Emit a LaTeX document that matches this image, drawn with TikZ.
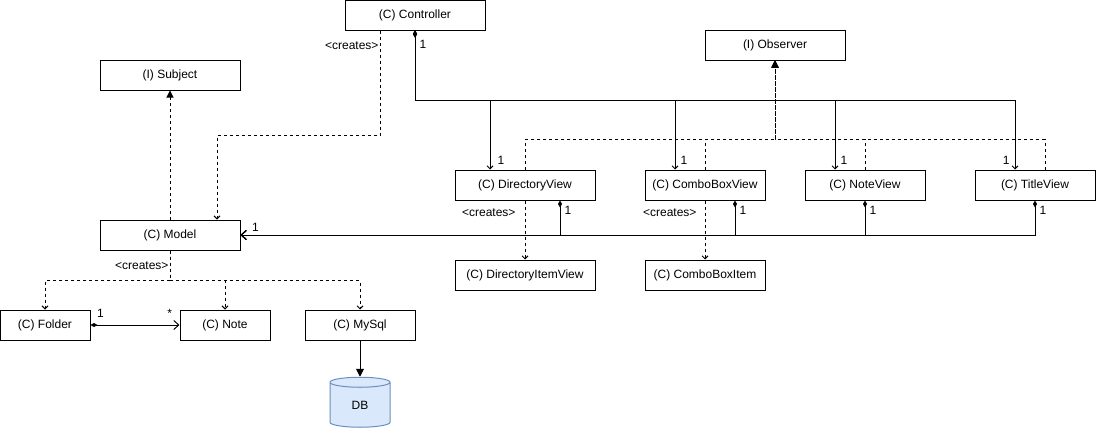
\documentclass[tikz,border=0pt]{standalone}
\usepackage{fontspec}
\setmainfont{Liberation Sans}
\usepackage{tikz}
\usetikzlibrary{positioning}
\usetikzlibrary{arrows.meta,shapes.geometric}
\definecolor{dbfill}{HTML}{DAE8FC}
\definecolor{dbline}{HTML}{6C8EBF}

\begin{document}
\begin{tikzpicture}[x=1pt,y=-1pt,line width=1pt,
  cls/.style={draw,rectangle,minimum height=30pt,inner sep=0pt,font=\fontsize{12}{14}\selectfont},
  lbl/.style={inner sep=1pt,font=\fontsize{12}{14}\selectfont},
  dep/.style={dash pattern=on 3pt off 3pt,-{Straight Barb[length=3pt,width=6pt]}},
  impl/.style={dash pattern=on 3pt off 3pt,-{Triangle[length=7pt,width=7pt]}},
  ctl/.style={{Diamond[length=7pt,width=4pt]}-{Straight Barb[length=3pt,width=6pt]}},
  agg/.style={{Diamond[length=7pt,width=4pt]}-{Straight Barb[length=5pt,width=9pt]}}]
\useasboundingbox (0,0) rectangle (1096,431);

% classes
\node[cls,minimum width=140pt] (ctrl) at (415,15) {(C) Controller};
\node[cls,minimum width=140pt] (subj) at (170,75) {(I) Subject};
\node[cls,minimum width=140pt] (obs) at (775,45) {(I) Observer};
\node[cls,minimum width=140pt] (model) at (170,235) {(C) Model};
\node[cls,minimum width=90pt] (folder) at (45,325) {(C) Folder};
\node[cls,minimum width=90pt] (note) at (225,325) {(C) Note};
\node[cls,minimum width=110pt] (mysql) at (360,325) {(C) MySql};
\node[cylinder,shape border rotate=90,aspect=0.6,draw=dbline,fill=dbfill,
  minimum width=60pt,minimum height=50pt,inner sep=0pt,
  font=\fontsize{12}{14}\selectfont] (db) at (360,405) {\raisebox{-6pt}{DB}};
\node[cls,minimum width=140pt] (dv) at (525,185) {(C) DirectoryView};
\node[cls,minimum width=120pt] (cbv) at (705,185) {(C) ComboBoxView};
\node[cls,minimum width=120pt] (nv) at (865,185) {(C) NoteView};
\node[cls,minimum width=120pt] (tv) at (1035,185) {(C) TitleView};
\node[cls,minimum width=140pt] (div) at (525,275) {(C) DirectoryItemView};
\node[cls,minimum width=120pt] (cbi) at (705,275) {(C) ComboBoxItem};

% controller
\draw[ctl] (ctrl.south) -- ++(0,70) node[pos=0.2,right,xshift=3pt,lbl]{1} -| node[pos=1,above right,xshift=6pt,yshift=4pt,lbl]{1} ([xshift=-35pt]dv.north);
\draw[ctl] (ctrl.south) -- ++(0,70) -| node[pos=1,above right,xshift=4pt,yshift=4pt,lbl]{1} ([xshift=-30pt]cbv.north);
\draw[ctl] (ctrl.south) -- ++(0,70) -| node[pos=1,above right,xshift=4pt,yshift=4pt,lbl]{1} ([xshift=-30pt]nv.north);
\draw[ctl] (ctrl.south) -- ++(0,70) -| node[pos=1,above left,xshift=-4pt,yshift=4pt,lbl]{1} ([xshift=-20pt]tv.north);
\draw[dep] ([xshift=-35pt]ctrl.south) -- ++(0,105) node[pos=0.14,left,lbl]{<creates>} -| ([xshift=47pt]model.north);

% model
\draw[impl] (model.north) -- (subj.south);
\draw[dep] (model.south) -- ++(0,30) node[pos=0.5,left,lbl]{<creates>} -| (folder.north);
\draw[dep] (model.south) -- ++(0,30) -| (note.north);
\draw[dep] (model.south) -- ++(0,30) -| (mysql.north);
\draw[{Diamond[length=7pt,width=4pt]}-{Straight Barb[length=5pt,width=9pt]}] (folder.east) -- (note.west)
  node[pos=0,anchor=south west,xshift=5pt,yshift=6pt,lbl]{1}
  node[pos=1,anchor=south east,xshift=-6pt,yshift=6pt,lbl]{*};
\draw[-{Triangle[length=8pt,width=8pt]}] (mysql.south) -- (db.top);

% views
\draw[agg] ([xshift=35pt]dv.south) |- node[pos=0.15,right,xshift=3pt,lbl]{1} (model.east);
\draw[agg] ([xshift=30pt]cbv.south) |- node[pos=0.15,right,xshift=3pt,lbl]{1} (model.east);
\draw[agg] (nv.south) |- node[pos=0.15,right,xshift=3pt,lbl]{1} (model.east);
\draw[agg] (tv.south) |- node[pos=0.15,right,xshift=3pt,lbl]{1} node[pos=1,above right,xshift=10pt,yshift=2pt,lbl]{1} (model.east);
\draw[impl] (dv.north) -- ++(0,-30) -| (obs.south);
\draw[impl] (cbv.north) -- ++(0,-30) -| (obs.south);
\draw[impl] (nv.north) -- ++(0,-30) -| (obs.south);
\draw[impl] ([xshift=10pt]tv.north) -- ++(0,-30) -| (obs.south);
\draw[dep] (dv.south) -- (div.north) node[pos=0.2,left=8pt,lbl]{<creates>};
\draw[dep] (cbv.south) -- (cbi.north) node[pos=0.2,left=7pt,lbl]{<creates>};
\end{tikzpicture}
\end{document}
